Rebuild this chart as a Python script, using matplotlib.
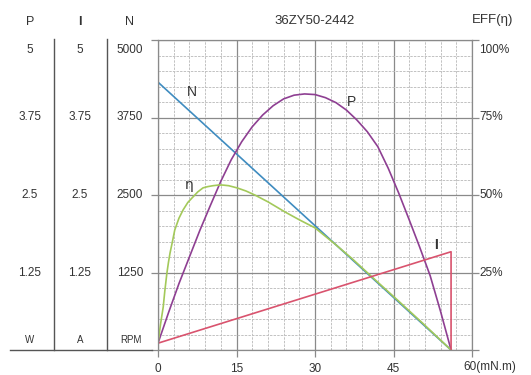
#!/usr/bin/env python3
# -*- coding: utf-8 -*-
"""
Motor characteristic curves for 36ZY50-2442 (N, P, I, EFF vs torque)
"""

import matplotlib
matplotlib.use("Agg")
import matplotlib.pyplot as plt
from matplotlib import transforms
from matplotlib.lines import Line2D
import numpy as np


TITLE = "36ZY50-2442"

# Speed (rpm) vs torque (mN.m)
N_TORQUE = [0, 56]
N_RPM = [4320, 0]

# Output power (W) vs torque
P_TORQUE = [0, 2, 4, 6, 8, 10, 12, 14, 16, 18, 20, 22, 24, 26, 28,
            30, 32, 34, 36, 38, 40, 42, 44, 46, 48, 50, 52, 54, 56]
P_WATT = [0.11, 0.60, 1.07, 1.50, 1.93, 2.33, 2.72, 3.07, 3.36, 3.60, 3.79, 3.94, 4.05, 4.11, 4.13,
          4.12, 4.07, 3.99, 3.87, 3.71, 3.52, 3.28, 2.93, 2.53, 2.10, 1.66, 1.20, 0.62, 0]

# Efficiency (%) vs torque
ETA_TORQUE = [0, 0.5, 1.0, 1.3, 1.7, 2.0, 2.3, 2.7, 3.2, 4.0, 4.8, 5.7, 6.7, 7.6, 8.6, 9.5,
              10.5, 11.5, 12.4, 13.5, 15.1, 16.8, 18.5, 21.0, 24.3, 27.0, 30.0, 33.8,
              37.0, 41.0, 45.7, 50.6, 56]
ETA_PCT = [2.2, 8.5, 13.9, 19.0, 24.8, 28.3, 31.3, 34.5, 38.7, 42.5, 45.2, 47.6, 49.4, 51.0, 52.3, 52.7,
           53.0, 53.2, 53.2, 53.0, 52.3, 51.3, 50.0, 47.8, 44.5, 42.0, 39.4, 34.2,
           29.6, 23.4, 16.2, 8.6, 0]

# Current (A) vs torque, dropping at stall
I_TORQUE = [0, 56, 56]
I_AMP = [0.11, 1.585, 0]

# Axis scales
N_TICKS = [5000, 3750, 2500, 1250]
P_LABELS = ["5", "3.75", "2.5", "1.25"]
I_LABELS = ["5", "3.75", "2.5", "1.25"]
N_LABELS = ["5000", "3750", "2500", "1250"]
EFF_LABELS = ["100%", "75%", "50%", "25%"]
X_TICKS = [0, 15, 30, 45, 60]
X_LABELS = ["0", "15", "30", "45", ""]

# scale factors onto the shared 0..5000 axis
P_SCALE = 1000.0
I_SCALE = 1000.0
ETA_SCALE = 50.0

W, H = 531, 375
TXT = "#333333"
GRID_MAJOR = "#8a8a8a"
GRID_MINOR = "#c2c2c2"

plt.rcParams["font.family"] = ["Liberation Sans", "DejaVu Sans"]


def fx(px):
    return px / W


def fy(py):
    return 1 - py / H


def main():
    fig = plt.figure(figsize=(W / 100, H / 100), dpi=100)
    ax = fig.add_axes([fx(158), fy(350), fx(472) - fx(158), fy(40) - fy(350)])

    ax.set_xlim(0, 60)
    ax.set_ylim(0, 5000)
    ax.set_xticks(X_TICKS)
    ax.set_xticks(np.arange(0, 61, 3), minor=True)
    ax.set_yticks([0] + N_TICKS)
    ax.set_yticks(np.arange(0, 5001, 250), minor=True)
    ax.set_xticklabels(X_LABELS, fontsize=8.5, color=TXT)
    ax.set_yticklabels([])
    ax.tick_params(which="major", length=5, width=0.9, color=GRID_MAJOR,
                   right=True, pad=4)
    ax.tick_params(which="minor", length=0)
    ax.grid(which="major", color=GRID_MAJOR, linewidth=0.9)
    ax.grid(which="minor", color=GRID_MINOR, linewidth=0.7, linestyle=(0, (2.5, 1.2)))
    ax.set_axisbelow(True)
    for sp in ax.spines.values():
        sp.set_color(GRID_MAJOR)
        sp.set_linewidth(0.9)

    # curves
    ax.plot(N_TORQUE, N_RPM, color="#3f8cc0", linewidth=1.2)
    ax.plot(P_TORQUE, np.array(P_WATT) * P_SCALE, color="#8e3f92", linewidth=1.2)
    ax.plot(ETA_TORQUE, np.array(ETA_PCT) * ETA_SCALE, color="#a3c95a", linewidth=1.2)
    ax.plot(I_TORQUE, np.array(I_AMP) * I_SCALE, color="#d9536e", linewidth=1.2)

    # curve labels
    ax.text(6.5, 4160, "N", fontsize=10, color=TXT, ha="center", va="center")
    ax.text(37.0, 4000, "P", fontsize=10, color=TXT, ha="center", va="center")
    ax.text(5.9, 2660, "η", fontsize=10, color=TXT, ha="center", va="center",
            family=["DejaVu Sans"])
    ax.text(53.1, 1700, "I", fontsize=10, color=TXT, ha="center", va="center",
            fontweight="bold")

    ax.text(60, -270, "60(mN.m)", fontsize=8.5, color=TXT, ha="left", va="center",
            transform=transforms.offset_copy(ax.transData, fig=fig, x=-9 * 0.72, units="points"))

    # left scale columns
    trans = transforms.blended_transform_factory(fig.transFigure, ax.transData)
    for col_x, labels in ((30, P_LABELS), (80, I_LABELS), (130, N_LABELS)):
        for val, lab in zip(N_TICKS, labels):
            va = "top" if val == 5000 else "center"
            yv = val if val != 5000 else val - 60
            fig.text(fx(col_x), yv, lab, fontsize=8.5, color=TXT, ha="center", va=va,
                     transform=trans)
    for val, lab in zip(N_TICKS, EFF_LABELS):
        va = "top" if val == 5000 else "center"
        yv = val if val != 5000 else val - 60
        fig.text(fx(479), yv, lab, fontsize=8.5, color=TXT, ha="left", va=va, transform=trans)

    # headers
    fig.text(fx(30), fy(22), "P", fontsize=9, color=TXT, ha="center", va="center")
    fig.text(fx(80), fy(22), "I", fontsize=9, color=TXT, ha="center", va="center",
             fontweight="bold")
    fig.text(fx(130), fy(22), "N", fontsize=9, color=TXT, ha="center", va="center")
    fig.text(fx(315), fy(21), TITLE, fontsize=9.5, color=TXT, ha="center", va="center")
    fig.text(fx(493), fy(20), "EFF(η)", fontsize=9.5, color=TXT, ha="center", va="center",
             family=["Liberation Sans", "DejaVu Sans"])

    # units
    fig.text(fx(30), fy(340), "W", fontsize=7, color=TXT, ha="center", va="center")
    fig.text(fx(80), fy(340), "A", fontsize=7, color=TXT, ha="center", va="center")
    fig.text(fx(131), fy(340), "RPM", fontsize=7, color=TXT, ha="center", va="center")

    # separators of the left panel
    for sx in (54, 107):
        fig.add_artist(Line2D([fx(sx), fx(sx)], [fy(39), fy(350)], color="#555555",
                              linewidth=1.0, transform=fig.transFigure))
    fig.add_artist(Line2D([fx(10), fx(152)], [fy(350), fy(350)], color="#555555",
                          linewidth=1.0, transform=fig.transFigure))

    fig.savefig("out.png", dpi=100)
    plt.close(fig)


if __name__ == "__main__":
    main()
